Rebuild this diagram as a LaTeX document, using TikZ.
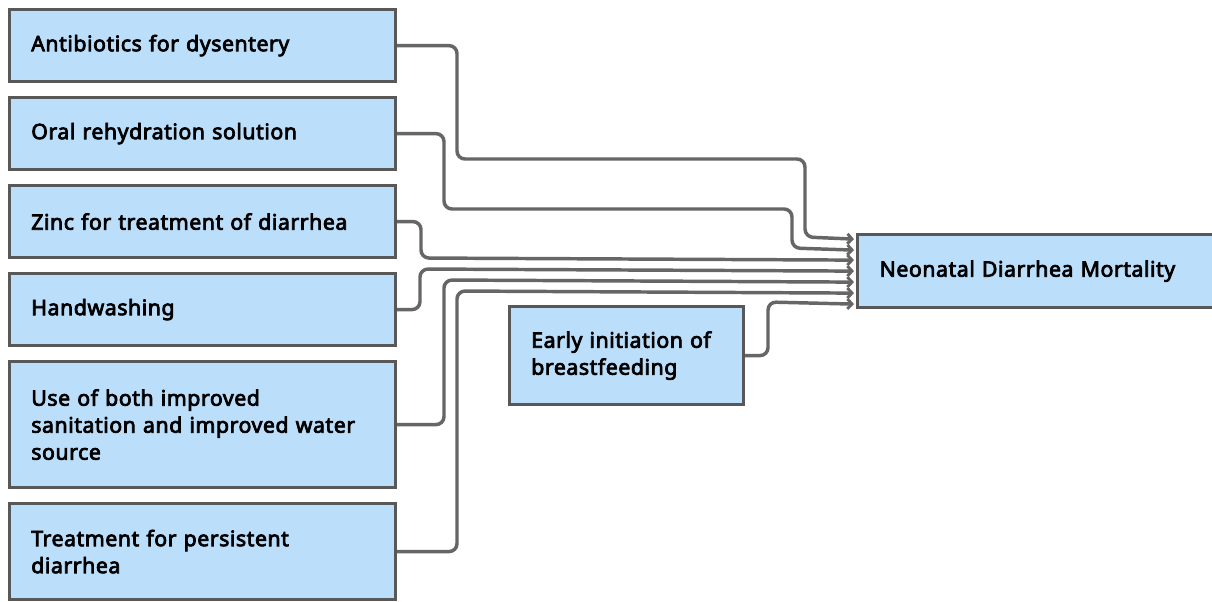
\documentclass[tikz,border=0pt]{standalone}
\usepackage{fontspec}
\usepackage{xcolor}
\usepackage{tikz}
\usetikzlibrary{calc}
\usetikzlibrary{arrows.meta, positioning}
\newfontfamily\boxfont{Noto Sans}[FakeBold=3.5, LetterSpace=2.5]
\definecolor{boxblue}{HTML}{BBDEFA}
\definecolor{boxline}{HTML}{585858}
\definecolor{linkgray}{HTML}{666666}
\tikzset{factor/.style={draw=boxline, fill=boxblue, line width=2.4pt, anchor=north west,
  minimum width=289.5pt, text width=257pt, inner xsep=16.25pt, align=left,
  font=\boxfont\fontsize{16pt}{20.25pt}\selectfont},
link/.style={draw=linkgray, line width=2.6pt, rounded corners=6pt,
  -{Straight Barb[length=3.5pt,width=7.5pt,line width=2.2pt]}}}
\begin{document}
\begin{tikzpicture}[x=0.75pt,y=-0.75pt]
 \useasboundingbox (0,0) rectangle (1212,601);
 %Left column of boxes
 \node[factor, minimum height=54pt] (antib) at (8,8) {Antibiotics for dysentery};
 \node[factor, minimum height=54pt] (ors) at (8,96) {Oral rehydration solution};
 \node[factor, minimum height=54pt] (zinc) at (8,184) {Zinc for treatment of diarrhea};
 \node[factor, minimum height=54pt] (handw) at (8,272) {Handwashing};
 \node[factor, minimum height=94.5pt] (sanit) at (8,360) {Use of both improved\\sanitation and improved water\\source};
 \node[factor, minimum height=72pt] (persist) at (8,502) {Treatment for persistent\\diarrhea};

 %Middle box and outcome
 \node[factor, minimum width=175.5pt, text width=143pt, minimum height=73.5pt] (breastf) at (508,305) {Early initiation of\\breastfeeding};
 \node[factor, minimum width=330pt, text width=297pt, minimum height=54.75pt] (mortal) at (856,233) {Neonatal Diarrhea Mortality};

 %Entry points on the outcome box
 \foreach \i/\dy in {1/-32,2/-21,3/-11,4/0,5/11,6/22,7/33}
   \coordinate (in\i) at ($(mortal.west)+(-2,\dy)$);

 %Connectors
 \draw[link] (antib.east) -| (457,159) -| (805,237) -- (in1);
 \draw[link] (ors.east) -| (444,209) -| (792,248) -- (in2);
 \draw[link] (zinc.east) -| (421,258) -- (in3);
 \draw[link] (handw.east) -| (420,269) -- (in4);
 \draw[link] (sanit.east) -| (444,280) -- (in5);
 \draw[link] (persist.east) -| (457,291) -- (in6);
 \draw[link] (breastf.east) -| (768,302) -- (in7);

\end{tikzpicture}
\end{document}
